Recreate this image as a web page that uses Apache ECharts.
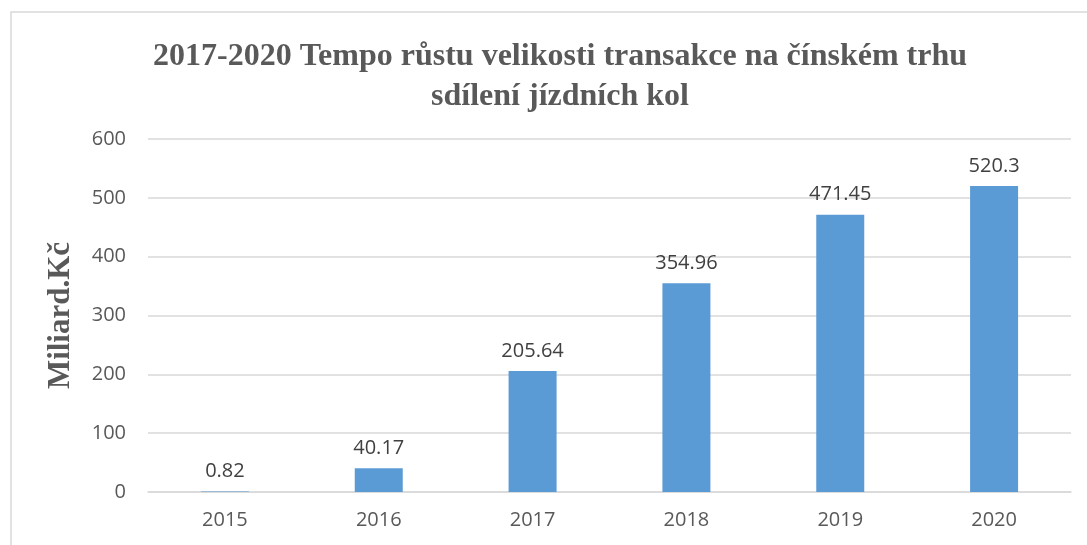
<!DOCTYPE html>
<html>
<head>
<meta charset="utf-8">
<script src="https://cdn.jsdelivr.net/npm/echarts@6/dist/echarts.min.js"></script>
<style>
  html, body { margin: 0; padding: 0; background: #ffffff; }
  #chart { width: 1087px; height: 545px; }
</style>
</head>
<body>
<div id="chart"></div>
<script>
const years = ['2015', '2016', '2017', '2018', '2019', '2020'];
const values = [0.82, 40.17, 205.64, 354.96, 471.45, 520.3];

const chart = echarts.init(document.getElementById('chart'));

const option = {
    backgroundColor: '#ffffff',
    animation: false,
    graphic: [{
        type: 'rect',
        shape: { x: 11, y: 12, width: 1100, height: 560 },
        style: { fill: 'none', stroke: '#d9d9d9', lineWidth: 1.5 },
        silent: true
    }],
    title: {
        text: '2017-2020 Tempo růstu velikosti transakce na čínském trhu\nsdílení jízdních kol',
        left: 555,
        top: 32,
        textAlign: 'center',
        textStyle: {
            fontFamily: 'Liberation Serif',
            fontWeight: 'bold',
            fontSize: 32,
            lineHeight: 40,
            color: '#595959'
        }
    },
    grid: {
        left: 148,
        right: 16,
        top: 139,
        bottom: 53
    },
    xAxis: {
        type: 'category',
        data: years,
        axisTick: { show: false },
        axisLine: { lineStyle: { color: '#d9d9d9', width: 1.5 } },
        axisLabel: {
            color: '#595959',
            fontFamily: 'Open Sans',
            fontSize: 20,
            margin: 18
        }
    },
    yAxis: {
        type: 'value',
        min: 0,
        max: 600,
        interval: 100,
        name: 'Miliard.Kč',
        nameLocation: 'middle',
        nameGap: 72,
        nameTextStyle: {
            fontFamily: 'Liberation Serif',
            fontWeight: 'bold',
            fontSize: 31,
            color: '#595959'
        },
        axisLine: { show: false },
        axisTick: { show: false },
        axisLabel: {
            color: '#595959',
            fontFamily: 'Open Sans',
            fontSize: 20,
            margin: 22
        },
        splitLine: { lineStyle: { color: '#d9d9d9', width: 1.5 } }
    },
    series: [{
        type: 'bar',
        data: values,
        barWidth: 48,
        itemStyle: { color: '#5b9bd5' },
        label: {
            show: true,
            position: 'top',
            distance: 10,
            color: '#404040',
            fontFamily: 'Open Sans',
            fontSize: 20
        }
    }]
};

chart.setOption(option);
</script>
</body>
</html>
